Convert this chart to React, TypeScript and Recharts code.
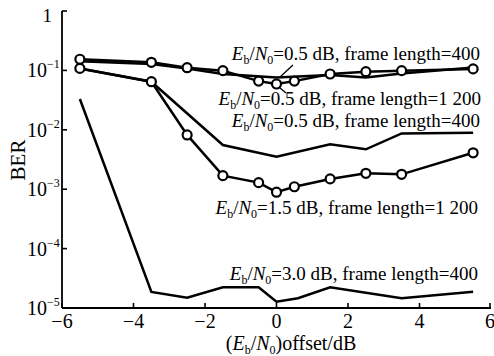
import { LineChart, Line, XAxis, YAxis } from 'recharts';

// x offsets (dB) and BER values
const offsets0p5Fl1200 = [-5.5, -3.5, -2.5, -1.5, -0.5, 0, 0.5, 1.5, 2.5, 3.5, 5.5];
const ber0p5Fl1200 = [0.154, 0.137, 0.111, 0.099, 0.066, 0.059, 0.066, 0.087, 0.095, 0.099, 0.106];

const offsets0p5Fl400 = [-5.5, -3.5, -2.5, -1.5, 0, 1.5, 2.5, 3.5, 5.5];
const ber0p5Fl400 = [0.142, 0.128, 0.108, 0.087, 0.076, 0.084, 0.076, 0.089, 0.112];

const offsetsMidFl400 = [-5.5, -3.5, -1.5, 0, 1.5, 2.5, 3.5, 5.5];
const berMidFl400 = [0.108, 0.0645, 0.00555, 0.00352, 0.0057, 0.0047, 0.0087, 0.0089];

const offsets1p5Fl1200 = [-5.5, -3.5, -2.5, -1.5, -0.5, 0, 0.5, 1.5, 2.5, 3.5, 5.5];
const ber1p5Fl1200 = [0.108, 0.0645, 0.0082, 0.00169, 0.00129, 0.00089, 0.0011, 0.00149, 0.00185, 0.00178, 0.0041];

const offsets3p0Fl400 = [-5.5, -3.5, -2.5, -1.5, -0.5, 0, 0.6, 1.5, 3.5, 5.5];
const ber3p0Fl400 = [0.033, 1.86e-5, 1.49e-5, 2.24e-5, 2.24e-5, 1.28e-5, 1.46e-5, 2.24e-5, 1.46e-5, 1.88e-5];

const xTicks = [-6, -4, -2, 0, 2, 4, 6];
const yTicks = [1, 1e-1, 1e-2, 1e-3, 1e-4, 1e-5];
const yExponents = ['', '−1', '−2', '−3', '−4', '−5'];

// annotation texts: [snr, frame length]
const noteSnr = ['0.5', '0.5', '0.5', '1.5', '3.0'];
const noteLen = ['400', '1 200', '400', '1 200', '400'];

const toRows = (xs: number[], ys: number[]) => xs.map((x, i) => ({ x, ber: ys[i] }));

const FONT = '"Liberation Serif", "Times New Roman", serif';
const txt = { fontFamily: FONT };
const PLOT_LEFT = 62;
const PLOT_BOTTOM = 308;

const circle = { r: 4.5, fill: '#fff', stroke: '#000', strokeWidth: 2.2 };

const YTick = (props: any) => {
  const { y, index } = props;
  const exp = yExponents[index];
  return (
    <g>
      <line x1={PLOT_LEFT} x2={PLOT_LEFT + 5} y1={y} y2={y} stroke="#000" strokeWidth={1.6} />
      {exp === '' ? (
        <text x={52} y={y + 11} textAnchor="end" fontSize={19} style={txt} fill="#000">1</text>
      ) : (
        <text x={27} y={y + 7} fontSize={20} style={txt} fill="#000">
          10<tspan fontSize={12} dy={-9}>{exp}</tspan>
        </text>
      )}
    </g>
  );
};

const XTick = (props: any) => {
  const { x, payload } = props;
  const v = payload.value as number;
  return (
    <g>
      <line x1={x} x2={x} y1={PLOT_BOTTOM} y2={PLOT_BOTTOM - 5} stroke="#000" strokeWidth={1.6} />
      <text x={x} y={328} textAnchor="middle" fontSize={20} style={txt} fill="#000">
        {v < 0 ? '−' + Math.abs(v) : String(v)}
      </text>
    </g>
  );
};

const Note = ({ x, y, i }: { x: number; y: number; i: number }) => (
  <text x={x} y={y} textAnchor="end" fontSize={19} style={txt} fill="#000">
    <tspan fontStyle="italic">E</tspan>
    <tspan fontSize={12} dy={3.5}>b</tspan>
    <tspan dy={-3.5}>/</tspan>
    <tspan fontStyle="italic">N</tspan>
    <tspan fontSize={12} dy={3.5}>0</tspan>
    <tspan dy={-3.5}>={noteSnr[i]} dB, frame length={noteLen[i]}</tspan>
  </text>
);

export default function App() {
  return (
    <div style={{ position: 'absolute', left: 0, top: 0, width: 494, height: 356, background: '#fff' }}>
      <LineChart width={494} height={356} margin={{ top: 11, right: 3, bottom: 18, left: 0 }}>
        <XAxis
          type="number"
          dataKey="x"
          domain={[-6, 6]}
          ticks={xTicks}
          height={30}
          stroke="#000"
          strokeWidth={1.8}
          tickLine={false}
          tick={<XTick />}
          allowDataOverflow
        />
        <YAxis
          scale="log"
          domain={[1e-5, 1]}
          ticks={yTicks}
          width={62}
          stroke="#000"
          strokeWidth={1.8}
          tickLine={false}
          tick={<YTick />}
          allowDataOverflow
        />
        <Line data={toRows(offsets0p5Fl400, ber0p5Fl400)} dataKey="ber" type="linear" stroke="#000" strokeWidth={2.5} dot={false} isAnimationActive={false} />
        <Line data={toRows(offsetsMidFl400, berMidFl400)} dataKey="ber" type="linear" stroke="#000" strokeWidth={2.5} dot={false} isAnimationActive={false} />
        <Line data={toRows(offsets3p0Fl400, ber3p0Fl400)} dataKey="ber" type="linear" stroke="#000" strokeWidth={2.5} dot={false} isAnimationActive={false} />
        <Line data={toRows(offsets0p5Fl1200, ber0p5Fl1200)} dataKey="ber" type="linear" stroke="#000" strokeWidth={2.5} dot={circle} isAnimationActive={false} />
        <Line data={toRows(offsets1p5Fl1200, ber1p5Fl1200)} dataKey="ber" type="linear" stroke="#000" strokeWidth={2.5} dot={circle} isAnimationActive={false} />
      </LineChart>
      <svg width={494} height={356} style={{ position: 'absolute', left: 0, top: 0, pointerEvents: 'none' }}>
        <line x1={293} y1={65} x2={280} y2={77} stroke="#000" strokeWidth={1.3} />
        <line x1={280} y1={88} x2={286} y2={93} stroke="#000" strokeWidth={1.3} />
        <Note x={480} y={60} i={0} />
        <Note x={481} y={105} i={1} />
        <Note x={480} y={127} i={2} />
        <Note x={478} y={214} i={3} />
        <Note x={478} y={280} i={4} />
        <text x={291} y={350} textAnchor="middle" fontSize={20} style={txt} fill="#000">
          (<tspan fontStyle="italic">E</tspan>
          <tspan fontSize={12} dy={3.5}>b</tspan>
          <tspan dy={-3.5}>/</tspan>
          <tspan fontStyle="italic">N</tspan>
          <tspan fontSize={12} dy={3.5}>0</tspan>
          <tspan dy={-3.5}>)offset/dB</tspan>
        </text>
        <text x={25} y={160} transform="rotate(-90 25 160)" textAnchor="middle" fontSize={21} style={txt} fill="#000">
          BER
        </text>
      </svg>
    </div>
  );
}
